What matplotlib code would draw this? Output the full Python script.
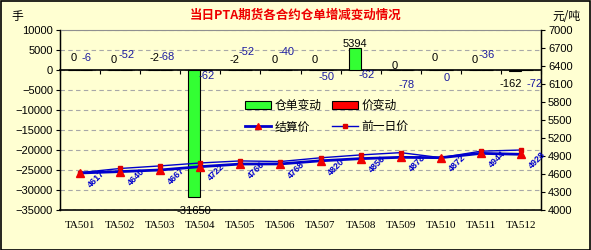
import matplotlib.pyplot as plt
import numpy as np
from matplotlib.lines import Line2D
from matplotlib.patches import Patch, Rectangle

plt.rcParams['font.family'] = ['Noto Sans CJK SC', 'DejaVu Sans']

# 数据
contracts = ['TA501', 'TA502', 'TA503', 'TA504', 'TA505', 'TA506',
             'TA507', 'TA508', 'TA509', 'TA510', 'TA511', 'TA512']
warehouse_change = [0, 0, -2, -31650, -2, 0, 0, 5394, 0, 0, 0, -162]  # 仓单变动(手)
price_change = [-6, -52, -68, -62, -52, -40, -50, -62, -78, 0, -36, -72]  # 价变动
settle_price = [4617, 4640, 4667, 4722, 4766, 4768, 4820, 4856, 4878, 4872, 4944, 4928]  # 结算价
prev_price = [4623, 4692, 4735, 4784, 4818, 4808, 4870, 4918, 4956, 4872, 4980, 5000]  # 前一日价

# 标签偏移(像素)
wh_dx = [0, 0, 0, 0, 0, 0, 0, 0, 0, 0, 0, -4]
wh_dy = [12, 10, 12, -14, 10, 10, 10, 4, 4, 12, 10, -13]
pc_dx = [0, 0, 0, 0, 0, 0, 0, 0, 0, 0, 0, 8]
pc_dy = [12, 15, 13, -6, 18, 18, -7, -5, -15, -8, 15, -14]

bg = '#FFFFD2'
blue = '#0000CC'
label_blue = '#1C1CA0'

fig = plt.figure(figsize=(5.91, 2.5), dpi=100, facecolor=bg)
ax = fig.add_axes([60 / 591, 40 / 250, 481 / 591, 180 / 250])
ax.set_facecolor(bg)
fig.patches.append(Rectangle((0.001, 0.002), 0.997, 0.995, transform=fig.transFigure,
                             fill=False, edgecolor='black', linewidth=1.2))

x = np.arange(len(contracts))
w = 0.3
ax.bar(x - w / 2, warehouse_change, w, color='#33FF33', edgecolor='black', linewidth=0.8, zorder=3)
ax.bar(x + w / 2, price_change, w, color='#FF0000', edgecolor='black', linewidth=0.8, zorder=3)

ax.set_xlim(-0.5, 11.5)
ax.set_ylim(-35000, 10000)
ax.set_yticks(np.arange(-35000, 10001, 5000))
ax.tick_params(axis='y', labelsize=8, length=3, direction='out', pad=2)
for t in ax.get_yticklabels():
    t.set_fontfamily(['Liberation Sans', 'DejaVu Sans'])
ax.yaxis.grid(True, linestyle=(0, (4, 3)), color='#A8A8A8', linewidth=0.8)
ax.set_axisbelow(True)

# 分类轴在0处
ax.spines['bottom'].set_position(('data', 0))
ax.spines['bottom'].set_linewidth(1.2)
ax.set_xticks(np.arange(-0.5, 12, 1))
ax.tick_params(axis='x', length=3, direction='out', labelbottom=False)
ax.spines['top'].set_color('#909090')
ax.spines['left'].set_linewidth(1.0)

sec = ax.secondary_xaxis(0)
sec.set_xticks(x, contracts)
sec.tick_params(length=0, labelsize=8, pad=8)
for t in sec.get_xticklabels():
    t.set_fontfamily(['Liberation Serif', 'DejaVu Serif'])
sec.spines['bottom'].set_linewidth(1.2)

for i in range(len(contracts)):
    ax.annotate(str(warehouse_change[i]), (x[i] - w / 2, warehouse_change[i]),
                xytext=(wh_dx[i], wh_dy[i]), textcoords='offset pixels', ha='center', va='center',
                fontsize=8, color='black', family=['Liberation Sans', 'DejaVu Sans'], zorder=5)
    ax.annotate(str(price_change[i]), (x[i] + w / 2, price_change[i]),
                xytext=(pc_dx[i], pc_dy[i]), textcoords='offset pixels', ha='center', va='center',
                fontsize=8, color=label_blue, family=['Liberation Sans', 'DejaVu Sans'], zorder=5)

# 价格(右轴)
ax2 = ax.twinx()
ax2.set_ylim(4000, 7000)
ax2.set_yticks(np.arange(4000, 7001, 300))
ax2.tick_params(axis='y', labelsize=8, length=3, direction='out', pad=2)
for t in ax2.get_yticklabels():
    t.set_fontfamily(['Liberation Sans', 'DejaVu Sans'])
ax2.spines['top'].set_visible(False)
ax2.spines['bottom'].set_visible(False)
ax2.spines['right'].set_linewidth(1.0)

ax2.plot(x, prev_price, color=blue, linewidth=1.0, marker='s', markersize=2.5,
         markerfacecolor='#DD0000', markeredgecolor='#DD0000', zorder=4)
ax2.plot(x, settle_price, color=blue, linewidth=2.0, marker='^', markersize=6,
         markerfacecolor='#EE0000', markeredgecolor='#EE0000', zorder=5)
for i in range(len(contracts)):
    ax2.annotate(str(settle_price[i]), (x[i], settle_price[i]), xytext=(9, -13),
                 textcoords='offset pixels', rotation=45, rotation_mode='anchor',
                 ha='left', va='center', fontsize=6.5, fontweight='bold', color=blue,
                 family=['Liberation Sans', 'DejaVu Sans'], annotation_clip=False)

handles = [Patch(facecolor='#33FF33', edgecolor='black', linewidth=0.8),
           Line2D([], [], color=blue, lw=2, marker='^', ms=5, mfc='#EE0000', mec='#EE0000'),
           Patch(facecolor='#FF0000', edgecolor='black', linewidth=0.8),
           Line2D([], [], color=blue, lw=1, marker='s', ms=2.5, mfc='#DD0000', mec='#DD0000')]
labels = ['仓单变动', '结算价', '价变动', '前一日价']
ax2.legend(handles, labels, ncol=2, loc='center', bbox_to_anchor=(0.555, 0.52),
           frameon=False, fontsize=8.5, handlelength=2.2, handletextpad=0.3,
           columnspacing=0.9, labelspacing=0.7)

fig.text(0.5, 0.94, '当日PTA期货各合约仓单增减变动情况', ha='center', va='center',
         fontsize=9, fontweight='bold', color='#EE0000')
fig.text(0.03, 0.935, '手', ha='center', va='center', fontsize=8.5)
fig.text(0.958, 0.935, '元/吨', ha='center', va='center', fontsize=8.5)

fig.savefig('out.png', dpi=100, facecolor=bg)
